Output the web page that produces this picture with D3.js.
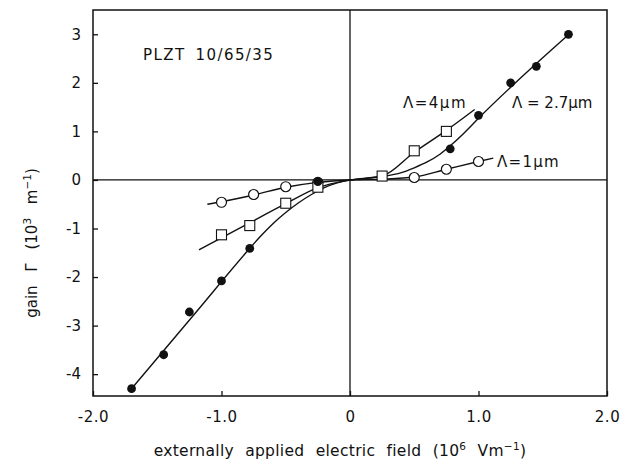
<!DOCTYPE html>
<html>
<head>
<meta charset="utf-8">
<script src="https://cdn.jsdelivr.net/npm/d3@7"></script>
<style>
  html, body { margin: 0; padding: 0; background: #fff; }
  svg text { font-family: "DejaVu Sans", Arial, sans-serif; fill: #111; }
</style>
</head>
<body>
<svg id="chart" width="631" height="459"></svg>
<script>
// Gain vs. externally applied field, PLZT 10/65/35, three grating periods

// Measured points, Λ = 2.7 µm (filled circles)
const field27 = [-1.7, -1.45, -1.25, -1.0, -0.78, -0.25, 0.78, 1.0, 1.25, 1.45, 1.7];
const gain27  = [-4.3, -3.6, -2.72, -2.08, -1.41, -0.035, 0.64, 1.33, 2.0, 2.34, 3.0];

// Measured points, Λ = 4 µm (open squares)
const field4 = [-1.0, -0.78, -0.5, -0.25, 0.25, 0.5, 0.75];
const gain4  = [-1.13, -0.94, -0.48, -0.15, 0.08, 0.6, 1.0];

// Measured points, Λ = 1 µm (open circles)
const field1 = [-1.0, -0.75, -0.5, -0.25, 0.5, 0.75, 1.0];
const gain1  = [-0.46, -0.30, -0.14, -0.05, 0.05, 0.22, 0.38];

// Hand-drawn guide curves through each data set
const curve27x = [-1.7, -1.2, -0.8, -0.7, -0.6, -0.5, -0.4, -0.3, -0.2, -0.1, 0,
                  0.1, 0.25, 0.4, 0.5, 0.6, 0.7, 0.8, 0.9, 1.0, 1.7];
const curve27y = [-4.3, -2.73, -1.47, -1.17, -0.9, -0.67, -0.47, -0.3, -0.16, -0.06, 0,
                  0.025, 0.07, 0.15, 0.25, 0.37, 0.53, 0.75, 1.0, 1.27, 2.99];
const curve4x  = [-1.175, -0.8, -0.5, -0.25, 0, 0.25, 0.5, 0.75, 0.97];
const curve4y  = [-1.44, -0.91, -0.49, -0.16, 0, 0.08, 0.57, 1.02, 1.45];
const curve1x  = [-1.11, -1.0, -0.75, -0.5, -0.25, 0, 0.25, 0.5, 0.75, 1.0, 1.115];
const curve1y  = [-0.5, -0.45, -0.31, -0.15, -0.05, 0, 0.015, 0.06, 0.22, 0.38, 0.45];

// Axis ticks
const xTicks = [-2, -1, 0, 1, 2];
const xTickLabels = ["-2.0", "-1.0", "0", "1.0", "2.0"];
const yTicks = [-4, -3, -2, -1, 0, 1, 2, 3];
const yTickLabels = ["-4", "-3", "-2", "-1", "0", "1", "2", "3"];

const svg = d3.select("#chart");
const x = d3.scaleLinear().domain([-2, 2]).range([93, 607]);
const y = d3.scaleLinear().domain([-4.45, 3.5]).range([396, 10]);

const ink = "#111";
const font = "DejaVu Sans, Arial, sans-serif";

// Zero lines
svg.append("line")
  .attr("x1", x(0)).attr("x2", x(0)).attr("y1", y(3.5)).attr("y2", y(-4.45))
  .attr("stroke", ink).attr("stroke-width", 1.3);
svg.append("line")
  .attr("x1", x(-2)).attr("x2", x(2)).attr("y1", y(0)).attr("y2", y(0))
  .attr("stroke", ink).attr("stroke-width", 1.3);

// Axes
const yAxis = d3.axisLeft(y)
  .tickValues(yTicks)
  .tickFormat((d, i) => yTickLabels[i])
  .tickSizeInner(-5).tickSizeOuter(0).tickPadding(12);
const gy = svg.append("g").attr("transform", `translate(${x(-2)},0)`).call(yAxis);

const xAxis = d3.axisBottom(x)
  .tickValues(xTicks)
  .tickFormat((d, i) => xTickLabels[i])
  .tickSizeInner(-5).tickSizeOuter(0).tickPadding(15);
const gx = svg.append("g").attr("transform", `translate(0,${y(-4.45)})`).call(xAxis);

[gx, gy].forEach(g => {
  g.select(".domain").remove();
  g.selectAll(".tick line").attr("stroke", ink).attr("stroke-width", 1.3);
  g.selectAll(".tick text")
    .attr("font-family", font)
    .attr("font-size", 15).attr("fill", ink);
});
gx.selectAll(".tick text").attr("letter-spacing", 0.5);

// Frame
svg.append("rect")
  .attr("x", x(-2)).attr("y", y(3.5))
  .attr("width", x(2) - x(-2)).attr("height", y(-4.45) - y(3.5))
  .attr("fill", "none").attr("stroke", ink).attr("stroke-width", 1.5);

// Guide curves
const line = d3.line()
  .x(d => x(d[0])).y(d => y(d[1]))
  .curve(d3.curveMonotoneX);
[[curve27x, curve27y], [curve4x, curve4y], [curve1x, curve1y]].forEach(([cx, cy]) => {
  svg.append("path")
    .attr("d", line(d3.zip(cx, cy)))
    .attr("fill", "none").attr("stroke", ink).attr("stroke-width", 1.4);
});

// Markers
svg.append("g").selectAll("circle")
  .data(d3.zip(field1, gain1)).join("circle")
  .attr("cx", d => x(d[0])).attr("cy", d => y(d[1])).attr("r", 5)
  .attr("fill", "#fff").attr("stroke", ink).attr("stroke-width", 1.2);

svg.append("g").selectAll("rect")
  .data(d3.zip(field4, gain4)).join("rect")
  .attr("x", d => x(d[0]) - 5).attr("y", d => y(d[1]) - 5)
  .attr("width", 10).attr("height", 10)
  .attr("fill", "#fff").attr("stroke", ink).attr("stroke-width", 1.1);

svg.append("g").selectAll("circle")
  .data(d3.zip(field27, gain27)).join("circle")
  .attr("cx", d => x(d[0])).attr("cy", d => y(d[1])).attr("r", 4.4)
  .attr("fill", ink);

// Labels
svg.append("text").attr("x", 143).attr("y", 60)
  .attr("font-size", 15).attr("letter-spacing", 1.4).attr("word-spacing", 4)
  .text("PLZT 10/65/35");

svg.append("text").attr("x", 403).attr("y", 108).attr("font-size", 15)
  .attr("letter-spacing", 1.5).text("Λ=4μm");
svg.append("text").attr("x", 512).attr("y", 108).attr("font-size", 15)
  .text("Λ = 2.7μm");
svg.append("text").attr("x", 497).attr("y", 167).attr("font-size", 15)
  .attr("letter-spacing", 1.3).text("Λ=1μm");

// Axis titles
const xt = svg.append("text").attr("x", 340).attr("y", 456)
  .attr("text-anchor", "middle").attr("font-size", 15.5)
  .attr("letter-spacing", 0.3).attr("word-spacing", 6);
xt.append("tspan").text("externally applied electric field  (10");
xt.append("tspan").attr("dy", -6).attr("font-size", 10.5).text("6");
xt.append("tspan").attr("dy", 6).text(" Vm");
xt.append("tspan").attr("dy", -6).attr("font-size", 10.5).text("−1");
xt.append("tspan").attr("dy", 6).text(")");

const yt = svg.append("text")
  .attr("transform", "translate(37,243) rotate(-90)")
  .attr("text-anchor", "middle").attr("font-size", 15).attr("word-spacing", 9);
yt.append("tspan").text("gain Γ (10");
yt.append("tspan").attr("dy", -6).attr("font-size", 10.5).text("3");
yt.append("tspan").attr("dy", 6).text(" m");
yt.append("tspan").attr("dy", -6).attr("font-size", 10.5).text("−1");
yt.append("tspan").attr("dy", 6).text(")");
</script>
</body>
</html>
